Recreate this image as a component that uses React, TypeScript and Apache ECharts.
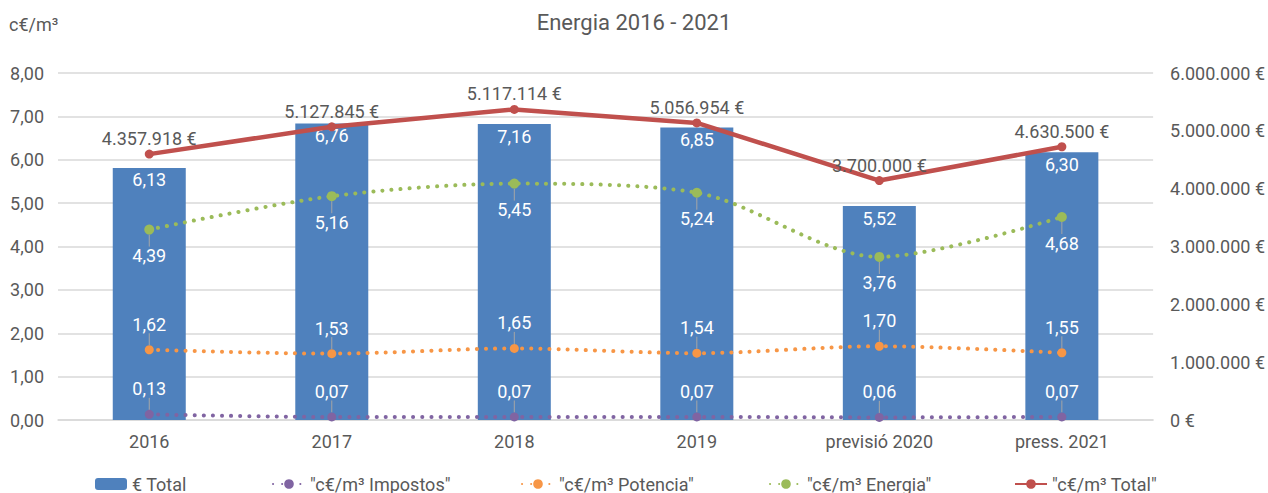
import React, { useEffect, useRef } from "react";
import * as echarts from "echarts";

const categories = ["2016", "2017", "2018", "2019", "previsió 2020", "press. 2021"];
const eurTotal = [4357918, 5127845, 5117114, 5056954, 3700000, 4630500];
const cTotal = [6.13, 6.76, 7.16, 6.85, 5.52, 6.3];
const cEnergia = [4.39, 5.16, 5.45, 5.24, 3.76, 4.68];
const cPotencia = [1.62, 1.53, 1.65, 1.54, 1.7, 1.55];
const cImpostos = [0.13, 0.07, 0.07, 0.07, 0.06, 0.07];

const NAME_BAR = "€ Total";
const NAME_IMP = '"c€/m³ Impostos"';
const NAME_POT = '"c€/m³ Potencia"';
const NAME_ENE = '"c€/m³ Energia"';
const NAME_TOT = '"c€/m³ Total"';

const FONT = "Roboto";
const GREY = "#595959";
const FS = 18;

const fmtDec = (v: number) => v.toFixed(2).replace(".", ",");
const fmtEur = (v: number) =>
  Math.round(v).toString().replace(/\B(?=(\d{3})+(?!\d))/g, ".") + " €";

export default function App() {
  const ref = useRef<HTMLDivElement>(null);
  useEffect(() => {
    if (!ref.current) return;
    const chart = echarts.init(ref.current, undefined, { renderer: "svg" });
    const dotted = (color: string) => ({
      color,
      width: 4,
      type: [0.1, 9] as any,
      cap: "round" as const,
    });
    const whiteLabel = {
      show: true,
      color: "#ffffff",
      fontSize: FS,
      fontFamily: FONT,
      formatter: (p: any) => fmtDec(p.value),
    };
    const legendCommon = {
      bottom: -5,
      itemWidth: 32,
      itemHeight: 12,
      textStyle: { color: GREY, fontSize: FS, fontFamily: FONT },
      itemGap: 4,
    };
    chart.setOption({
      animation: false,
      textStyle: { fontFamily: FONT },
      title: {
        text: "Energia 2016 - 2021",
        left: "center",
        top: 6,
        textStyle: { color: GREY, fontSize: 22, fontWeight: "normal", fontFamily: FONT },
      },
      graphic: [
        {
          type: "text",
          left: 9,
          top: 15,
          style: { text: "c€/m³", fill: GREY, font: `${FS}px ${FONT}` },
        },
      ],
      legend: [
        { ...legendCommon, left: 90, data: [NAME_BAR] },
        { ...legendCommon, left: 267, data: [NAME_IMP] },
        { ...legendCommon, left: 516, data: [NAME_POT] },
        { ...legendCommon, left: 764, data: [NAME_ENE] },
        { ...legendCommon, left: 1009, data: [NAME_TOT] },
      ],
      grid: { left: 58, right: 114, top: 73, bottom: 73, containLabel: false },
      xAxis: {
        type: "category",
        data: categories,
        axisLine: { lineStyle: { color: "#d9d9d9", width: 1.5 } },
        axisTick: { show: false },
        axisLabel: { color: GREY, fontSize: FS, fontFamily: FONT, margin: 12 },
      },
      yAxis: [
        {
          type: "value",
          min: 0,
          max: 8,
          interval: 1,
          axisLine: { show: false },
          axisTick: { show: false },
          splitLine: { lineStyle: { color: "#d9d9d9", width: 1.5 } },
          axisLabel: {
            color: GREY,
            fontSize: FS,
            fontFamily: FONT,
            margin: 14,
            formatter: (v: number) => fmtDec(v),
          },
        },
        {
          type: "value",
          min: 0,
          max: 6000000,
          interval: 1000000,
          axisLine: { show: false },
          axisTick: { show: false },
          splitLine: { show: false },
          axisLabel: {
            color: GREY,
            fontSize: FS,
            fontFamily: FONT,
            margin: 17,
            formatter: (v: number) => fmtEur(v),
          },
        },
      ],
      series: [
        {
          name: NAME_BAR,
          type: "bar",
          yAxisIndex: 1,
          data: eurTotal,
          barWidth: 73,
          itemStyle: { color: "#4f81bd" },
          label: {
            show: true,
            position: "insideTop",
            distance: 3,
            color: "#ffffff",
            fontSize: FS,
            fontFamily: FONT,
            formatter: (p: any) => fmtDec(cTotal[p.dataIndex]),
          },
          z: 1,
        },
        {
          name: NAME_IMP,
          type: "line",
          yAxisIndex: 0,
          data: cImpostos,
          smooth: 0.3,
          symbol: "circle",
          symbolSize: 9,
          itemStyle: { color: "#8064a2" },
          lineStyle: dotted("#8064a2"),
          label: { ...whiteLabel, position: "top", distance: 4 },
          labelLayout: { dy: -8 },
          labelLine: { show: true, lineStyle: { color: "#a6a6a6", width: 1 } },
          z: 3,
        },
        {
          name: NAME_POT,
          type: "line",
          yAxisIndex: 0,
          data: cPotencia,
          smooth: 0.3,
          symbol: "circle",
          symbolSize: 9,
          itemStyle: { color: "#f79646" },
          lineStyle: dotted("#f79646"),
          label: { ...whiteLabel, position: "top", distance: 4 },
          labelLayout: { dy: -8 },
          labelLine: { show: true, lineStyle: { color: "#a6a6a6", width: 1 } },
          z: 3,
        },
        {
          name: NAME_ENE,
          type: "line",
          yAxisIndex: 0,
          data: cEnergia,
          smooth: 0.3,
          symbol: "circle",
          symbolSize: 10,
          itemStyle: { color: "#9bbb59" },
          lineStyle: dotted("#9bbb59"),
          label: { ...whiteLabel, position: "bottom", distance: 4 },
          labelLayout: { dy: 8 },
          labelLine: { show: true, lineStyle: { color: "#a6a6a6", width: 1 } },
          z: 3,
        },
        {
          name: NAME_TOT,
          type: "line",
          yAxisIndex: 0,
          data: cTotal,
          symbol: "circle",
          symbolSize: 9,
          itemStyle: { color: "#c0504d" },
          lineStyle: { color: "#c0504d", width: 4.5 },
          label: {
            show: true,
            position: "top",
            distance: 2,
            color: GREY,
            fontSize: FS,
            fontFamily: FONT,
            formatter: (p: any) => fmtEur(eurTotal[p.dataIndex]),
          },
          z: 4,
        },
      ],
    });
    return () => chart.dispose();
  }, []);
  return (
    <div
      ref={ref}
      style={{ position: "absolute", left: 0, top: 0, width: 1268, height: 493, background: "#fff" }}
    />
  );
}
